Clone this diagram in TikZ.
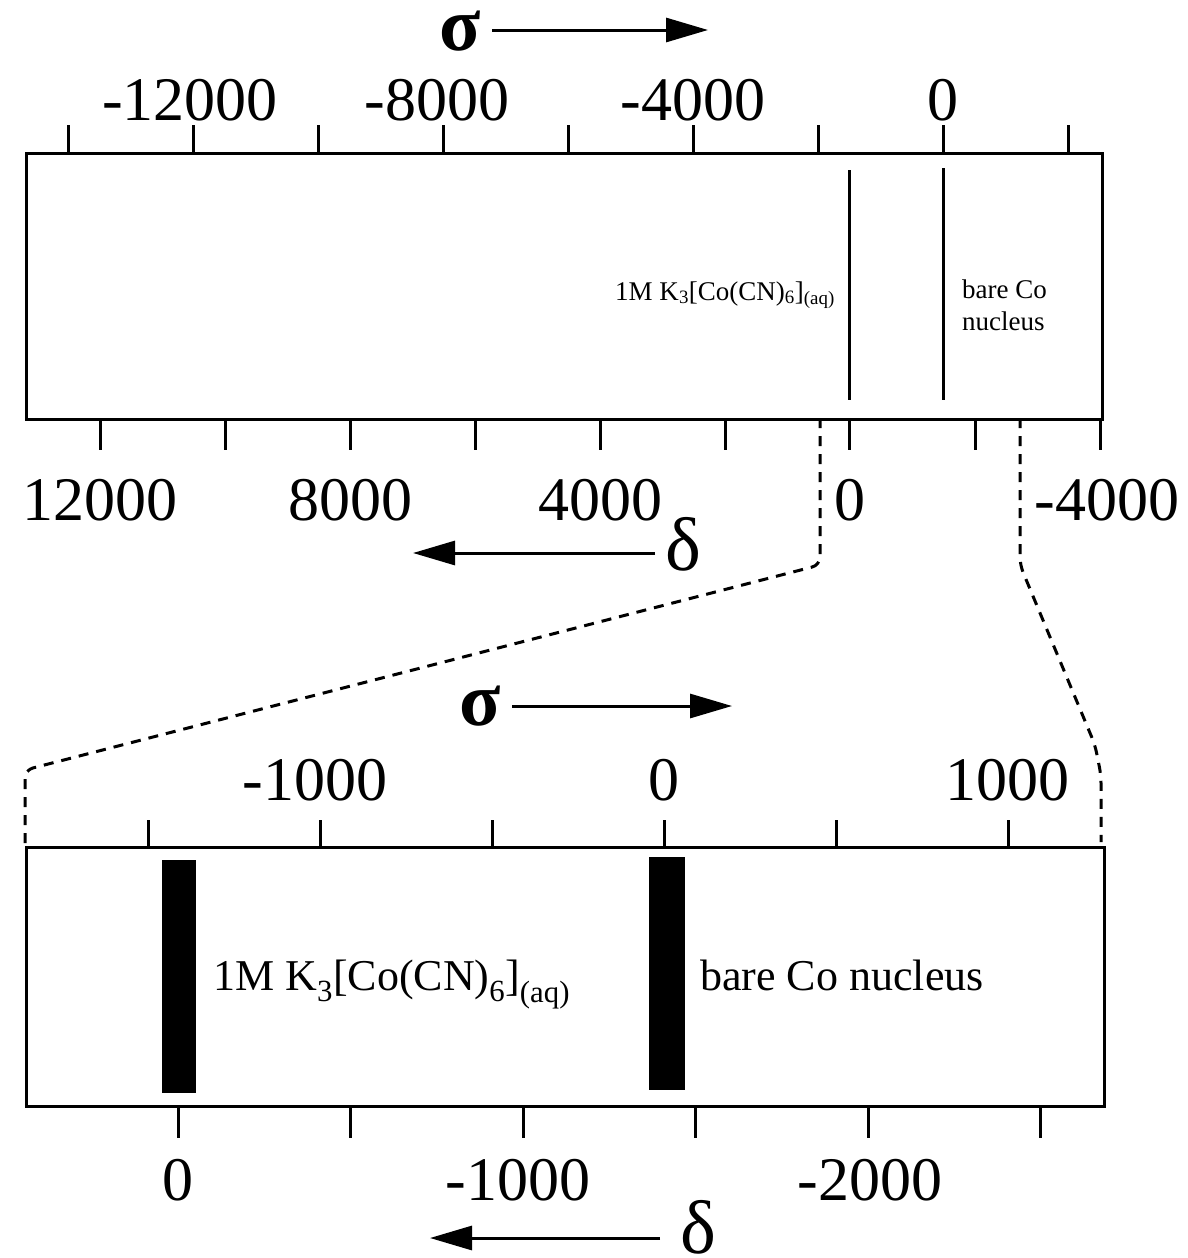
\documentclass[tikz,border=0pt]{standalone}
\usepackage{fontspec}
\setmainfont{Liberation Serif}
\usetikzlibrary{arrows.meta}
\begin{document}
\begin{tikzpicture}[x=1pt,y=-1pt,
  frame/.style={draw, line width=3pt, inner sep=0pt, anchor=north west},
  tick/.style={line width=3pt},
  num/.style={font=\fontsize{62}{62}\selectfont, anchor=base, inner sep=0pt},
  greek/.style={font=\fontsize{76}{76}\selectfont, anchor=base, inner sep=0pt,
                text height=54pt, text depth=0pt},
  sigma/.style={greek, font=\fontsize{76}{76}\selectfont\bfseries, text height=36pt},
  smalllab/.style={font=\fontsize{27}{32}\selectfont, inner sep=0pt},
  biglab/.style={font=\fontsize{44}{44}\selectfont, inner sep=0pt, anchor=base west},
  dir/.style={line width=3pt, -{Triangle[length=42pt,width=24pt]}},
  zoomline/.style={line width=3pt, dash pattern=on 10pt off 8pt, rounded corners=8pt},
  peak/.style={line width=3pt},
  bar/.style={fill=black, draw=none}
]
\useasboundingbox (0,0) rectangle (1188,1258);

% ---------- full-range spectrum ----------
\node[frame, minimum width=1076pt, minimum height=266pt] (wide) at (25,152) {};
\foreach \x in {68,193,318,443,568,693,818,943,1068}
  \draw[tick] (\x,152) -- (\x,125);
\foreach \x in {100,225,350,475,600,725,849,975,1100}
  \draw[tick] (\x,418) -- (\x,450);

\node[num] (s12) at (190,120) {-12000};
\node[num] (s8)  at (437,120) {-8000};
\node[num] (s4)  at (693,120) {-4000};
\node[num] (s0)  at (943,120) {0};

\node[num] (d12) at (100,520) {12000};
\node[num] (d8)  at (350,520) {8000};
\node[num] (d4)  at (600,520) {4000};
\node[num] (d0)  at (850,520) {0};
\node[num] (dm4) at (1107,520) {-4000};

\node[sigma] (sigtop) at (460,50) {σ};
\coordinate (sigtopA) at (492,30);
\coordinate (sigtopB) at (708,30);
\draw[dir] (sigtopA) -- (sigtopB);

\node[greek] (deltop) at (683,570) {δ};
\coordinate (deltopA) at (655,553);
\coordinate (deltopB) at (413,553);
\draw[dir] (deltopA) -- (deltopB);

\draw[peak] (849,170) -- (849,400);
\draw[peak] (943,168) -- (943,400);

\node[smalllab, anchor=base east] (k3top) at (835,300)
  {1M K\textsubscript{3}[Co(CN)\textsubscript{6}]\textsubscript{(aq)}};
\node[smalllab, anchor=base west] (baretop) at (962,298) {bare Co};
\node[smalllab, anchor=base west] (nuctop) at (962,330) {nucleus};

% ---------- expanded region ----------
\node[frame, minimum width=1078pt, minimum height=259pt] (zoom) at (25,846) {};
\foreach \x in {148,320,492,664,836,1008}
  \draw[tick] (\x,846) -- (\x,820);
\foreach \x in {178,350,523,695,868,1040}
  \draw[tick] (\x,1105) -- (\x,1138);

\node[num] (zs1) at (315,800) {-1000};
\node[num] (zs0) at (664,800) {0};
\node[num] (zs2) at (1007,800) {1000};

\node[num] (zd0) at (178,1200) {0};
\node[num] (zd1) at (518,1200) {-1000};
\node[num] (zd2) at (870,1200) {-2000};

\node[sigma] (sigbot) at (480,725) {σ};
\coordinate (sigbotA) at (512,706);
\coordinate (sigbotB) at (732,706);
\draw[dir] (sigbotA) -- (sigbotB);

\node[greek] (delbot) at (698,1253) {δ};
\coordinate (delbotA) at (660,1238);
\coordinate (delbotB) at (430,1238);
\draw[dir] (delbotA) -- (delbotB);

\fill[bar] (162,860) rectangle (196,1093);
\fill[bar] (649,857) rectangle (685,1090);

\node[biglab] (k3bot) at (213,990)
  {1M K\textsubscript{3}[Co(CN)\textsubscript{6}]\textsubscript{(aq)}};
\node[biglab] (barebot) at (700,990) {bare Co nucleus};

% ---------- dashed guides linking the two ranges ----------
\coordinate (zl0) at (820,418);
\coordinate (zl1) at (820,565);
\coordinate (zl2) at (25,770);
\coordinate (zl3) at (25,846);
\draw[zoomline] (zl0) -- (zl1) -- (zl2) -- (zl3);

\coordinate (zr0) at (1020,418);
\coordinate (zr1) at (1020,565);
\coordinate (zr2) at (1095,745);
\coordinate (zr3) at (1101,775);
\coordinate (zr4) at (1101,842);
\draw[zoomline] (zr0) -- (zr1) -- (zr2) -- (zr3) -- (zr4);
\end{tikzpicture}
\end{document}
